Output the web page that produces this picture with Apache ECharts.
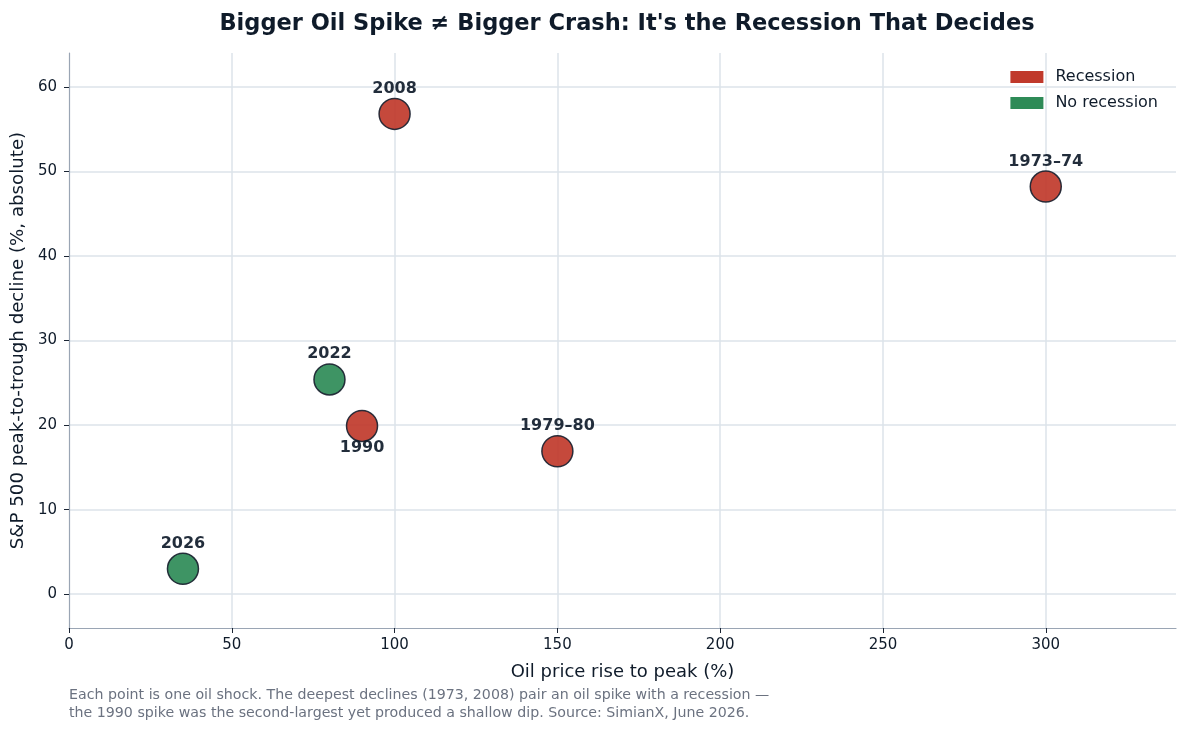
<!DOCTYPE html>
<html>
<head>
<meta charset="utf-8">
<script src="https://cdn.jsdelivr.net/npm/echarts@6/dist/echarts.min.js"></script>
<style>
  html, body { margin: 0; padding: 0; background: #fff; }
  #chart { width: 1187px; height: 732px; }
</style>
</head>
<body>
<div id="chart"></div>
<script>
// oil shocks
const shockLabels = ['1973–74', '1979–80', '1990', '2008', '2022', '2026']
const oilRise = [300, 150, 90, 100, 80, 35]
const spxDecline = [48.2, 16.9, 19.9, 56.8, 25.4, 3.0]
const recession = [true, true, true, true, false, false]

const FONT = 'DejaVu Sans'
const INK = '#0f1b2a'

// labels that sit under the dot instead of above
const labelBelow = ['1990']

function pointsFor(flag) {
  const out = []
  shockLabels.forEach((name, i) => {
    if (recession[i] !== flag) return
    out.push({
      name: name,
      value: [oilRise[i], spxDecline[i]],
      label: labelBelow.includes(name)
        ? { position: 'bottom', distance: -2 }
        : { position: 'top', distance: 1 }
    })
  })
  return out
}

function scatter(name, color, flag) {
  return {
    name: name,
    type: 'scatter',
    symbolSize: 31,
    itemStyle: {
      color: color,
      opacity: 0.92,
      borderColor: '#1a2230',
      borderWidth: 1.5
    },
    label: {
      show: true,
      formatter: '{b}',
      fontFamily: FONT,
      fontWeight: 'bold',
      fontSize: 16,
      color: INK
    },
    emphasis: { disabled: true },
    data: pointsFor(flag)
  }
}

const chart = echarts.init(document.getElementById('chart'))
chart.setOption({
  animation: false,
  textStyle: { fontFamily: FONT },
  title: {
    text: "Bigger Oil Spike ≠ Bigger Crash: It's the Recession That Decides",
    left: 622,
    textAlign: 'center',
    top: 8,
    textStyle: { fontFamily: FONT, fontSize: 22.5, fontWeight: 'bold', color: INK }
  },
  legend: {
    orient: 'vertical',
    right: 24,
    top: 64,
    itemWidth: 33,
    itemHeight: 12,
    itemGap: 10,
    icon: 'rect',
    textStyle: { fontFamily: FONT, fontSize: 16, color: INK, padding: [0, 0, 0, 7] },
    data: [
      { name: 'Recession', itemStyle: { color: '#c0392b', borderWidth: 0, opacity: 1 } },
      { name: 'No recession', itemStyle: { color: '#2e8b57', borderWidth: 0, opacity: 1 } }
    ]
  },
  grid: { left: 69, right: 11, top: 53, bottom: 104 },
  xAxis: {
    type: 'value',
    min: 0,
    max: 340,
    splitNumber: 7,
    name: 'Oil price rise to peak (%)',
    nameLocation: 'middle',
    nameGap: 35,
    nameTextStyle: { fontFamily: FONT, fontSize: 18, color: INK },
    axisLine: { show: true, onZero: false, lineStyle: { color: '#9aa5b4', width: 1.2 } },
    axisTick: { show: true, length: 5, lineStyle: { color: '#1a2433' } },
    axisLabel: { fontSize: 15, color: INK, margin: 10, showMaxLabel: false },
    splitLine: { show: true, showMinLine: false, showMaxLine: false, lineStyle: { color: '#dde3ea', width: 1.5 } }
  },
  yAxis: {
    type: 'value',
    min: -4,
    max: 64,
    splitNumber: 7,
    name: 'S&P 500 peak-to-trough decline (%, absolute)',
    nameLocation: 'middle',
    nameGap: 40,
    nameTextStyle: { fontFamily: FONT, fontSize: 18.2, color: INK },
    axisLine: { show: true, onZero: false, lineStyle: { color: '#9aa5b4', width: 1.2 } },
    axisTick: { show: true, length: 5, lineStyle: { color: '#1a2433' } },
    axisLabel: { fontSize: 15, color: INK, margin: 12, showMinLabel: false, showMaxLabel: false },
    splitLine: { show: true, showMinLine: false, showMaxLine: false, lineStyle: { color: '#dde3ea', width: 1.5 } }
  },
  graphic: [
    {
      type: 'text',
      left: 69,
      top: 686,
      style: {
        text: 'Each point is one oil shock. The deepest declines (1973, 2008) pair an oil spike with a recession —\n' +
          'the 1990 spike was the second-largest yet produced a shallow dip. Source: SimianX, June 2026.',
        fontFamily: FONT,
        fontSize: 14.2,
        lineHeight: 18,
        fill: '#6b7280'
      }
    }
  ],
  series: [
    scatter('Recession', '#c0392b', true),
    scatter('No recession', '#2e8b57', false)
  ]
})
</script>
</body>
</html>
